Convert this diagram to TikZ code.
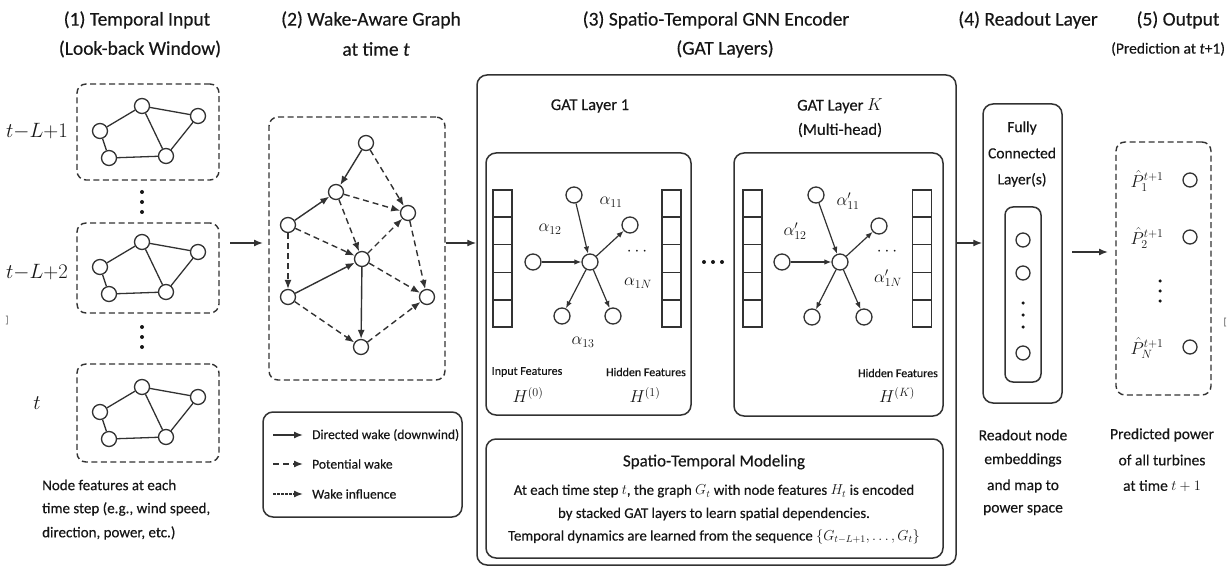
\documentclass[tikz,border=0pt]{standalone}
\usepackage{fontspec}
\setmainfont{Carlito}[UprightFeatures={FakeBold=0.35},ItalicFeatures={FakeBold=0.35}]
\usetikzlibrary{arrows.meta,calc}
\definecolor{ink}{RGB}{50,50,50}
\definecolor{txtc}{RGB}{22,22,22}
\newcommand{\fsz}[1]{\fontsize{#1}{#1}\selectfont}
\begin{document}
\begin{tikzpicture}[x=1pt,y=-1pt,
  vtx/.style={circle, draw=ink, line width=1.3pt, minimum size=15pt, inner sep=0pt, fill=white},
  svtx/.style={vtx, minimum size=14pt},
  dbox/.style={draw=ink, line width=1.4pt, dash pattern=on 6pt off 3.5pt, rounded corners=9pt, inner sep=0pt},
  sbox/.style={draw=ink, line width=1.5pt, rounded corners=10pt, inner sep=0pt},
  edge/.style={draw=ink, line width=1.3pt},
  arr/.style={draw=ink, line width=1.4pt, -{Latex[length=9pt,width=7pt]}},
  darr/.style={arr, dash pattern=on 6pt off 4pt},
  farr/.style={arr, dash pattern=on 2.5pt off 1.5pt},
  sarr/.style={draw=ink, line width=1.2pt, -{Latex[length=7pt,width=5.5pt]}},
  col/.style={draw=ink, line width=1.3pt, minimum width=19pt, minimum height=137pt, inner sep=0pt},
  tx/.style={text=txtc, inner sep=0pt},
  title/.style={tx, font=\fsz{19.5}},
  captxt/.style={tx, font=\fsz{15}},
  small/.style={tx, font=\fsz{12}},
  mth/.style={tx, font=\fsz{17}},
  dot/.style={circle, fill=txtc, inner sep=0pt, minimum size=4pt}
]
\useasboundingbox (0,0) rectangle (1231,569);

% ---------- titles ----------
\node[title] (t1a) at (137,20) {(1) Temporal Input};
\node[title] (t1b) at (140,49) {(Look-back Window)};
\node[title] (t2a) at (371,20) {(2) Wake-Aware Graph};
\node[title] (t2b) at (376,49) {at time \textit{t}};
\node[title] (t3a) at (716,20) {(3) Spatio-Temporal GNN Encoder};
\node[title] (t3b) at (725,49) {(GAT Layers)};
\node[title] (t4a) at (1028,20) {(4) Readout Layer};
\node[title] (t5a) at (1178,20) {(5) Output};
\node[tx, font=\fsz{15.5}, anchor=west] (t5b) at (1111,49) {(Prediction at \textit{t}+1)};

% ---------- panel 1 ----------
\node[dbox, minimum width=142pt, minimum height=96pt] (box1) at (148,132) {};
\node[dbox, minimum width=142pt, minimum height=90pt] (box2) at (148,268) {};
\node[dbox, minimum width=142pt, minimum height=98pt] (box3) at (148,413) {};
\foreach \g/\cy in {1/132,2/268,3/413}{
  \node[vtx] (g\g a) at (100,\cy-1) {};
  \node[vtx] (g\g b) at (142,\cy-26) {};
  \node[vtx] (g\g c) at (198,\cy-16) {};
  \node[vtx] (g\g d) at (109,\cy+26) {};
  \node[vtx] (g\g e) at (166,\cy+24) {};
  \draw[edge] (g\g a) -- (g\g b);
  \draw[edge] (g\g b) -- (g\g c);
  \draw[edge] (g\g b) -- (g\g e);
  \draw[edge] (g\g c) -- (g\g e);
  \draw[edge] (g\g a) -- (g\g d);
  \draw[edge] (g\g d) -- (g\g e);
}
\node[tx, font=\fsz{19.5}] (l1) at (37,131) {$t{-}L{+}1$};
\node[tx, font=\fsz{19.5}] (l2) at (37,272) {$t{-}L{+}2$};
\node[tx, font=\fsz{19.5}] (l3) at (37,403) {$t$};
\foreach \yy [count=\i] in {192,202,212}{\node[dot] (va\i) at (142,\yy) {};}
\foreach \yy [count=\i] in {327,337,347}{\node[dot] (vb\i) at (142,\yy) {};}
\node[captxt, anchor=west] (c1a) at (42,485) {Node features at each};
\node[captxt, anchor=west] (c1b) at (42,509) {time step (e.g., wind speed,};
\node[captxt, anchor=west] (c1c) at (42,533) {direction, power, etc.)};

% ---------- panel 2 ----------
\node[dbox, minimum width=176pt, minimum height=263pt] (wake) at (357,248.5) {};
\node[vtx] (wA) at (366,143) {};
\node[vtx] (wB) at (336,192) {};
\node[vtx] (wC) at (408,213) {};
\node[vtx] (wD) at (288,225) {};
\node[vtx] (wE) at (362,259) {};
\node[vtx] (wF) at (288,297) {};
\node[vtx] (wG) at (427,297) {};
\node[vtx] (wH) at (361,347) {};
\draw[arr]  (wA) -- (wB);
\draw[darr] (wA) -- (wC);
\draw[darr] (wB) -- (wC);
\draw[arr]  (wD) -- (wB);
\draw[darr] (wD) -- (wE);
\draw[darr] (wB) -- (wE);
\draw[darr] (wE) -- (wC);
\draw[darr] (wD) -- (wF);
\draw[arr]  (wF) -- (wE);
\draw[darr] (wF) -- (wH);
\draw[arr]  (wE) -- (wH);
\draw[darr] (wE) -- (wG);
\draw[darr] (wC) -- (wG);
\draw[darr] (wH) -- (wG);

% legend
\node[sbox, minimum width=199pt, minimum height=105pt] (legend) at (362.5,464.5) {};
\coordinate (lg1s) at (273,435); \coordinate (lg1e) at (303,435);
\coordinate (lg2s) at (273,464); \coordinate (lg2e) at (303,464);
\coordinate (lg3s) at (273,494); \coordinate (lg3e) at (303,494);
\draw[arr]  (lg1s) -- (lg1e);
\draw[darr] (lg2s) -- (lg2e);
\draw[farr] (lg3s) -- (lg3e);
\node[tx, font=\fsz{13.5}, anchor=west] (lt1) at (312,435) {Directed wake (downwind)};
\node[tx, font=\fsz{13.5}, anchor=west] (lt2) at (312,464) {Potential wake};
\node[tx, font=\fsz{13.5}, anchor=west] (lt3) at (312,494) {Wake influence};

% ---------- panel 3 ----------
\node[sbox, minimum width=479pt, minimum height=490pt] (enc) at (716.5,320) {};
\node[tx, font=\fsz{16.5}] (gt1) at (590,106) {GAT Layer 1};
\node[tx, font=\fsz{16.5}] (gtk) at (840,106) {GAT Layer $K$};
\node[tx, font=\fsz{16.5}] (gtm) at (840,130) {(Multi-head)};
\node[sbox, minimum width=205pt, minimum height=262pt] (lay1) at (588.5,284) {};
\node[sbox, minimum width=209pt, minimum height=263pt] (layk) at (838.5,284.5) {};

% feature columns
\node[col] (c1l) at (502.5,258.5) {};
\node[col] (c1r) at (671.5,258.5) {};
\node[col] (ckl) at (752.5,258.5) {};
\node[col] (ckr) at (922,258.5) {};
\foreach \c in {c1l,c1r,ckl,ckr}{
  \foreach \k in {1,2,3,4}{
    \draw[edge] ($(\c.north west)!\k/5!(\c.south west)$) -- ($(\c.north east)!\k/5!(\c.south east)$);
  }
}

% star graph layer 1
\node[vtx, minimum size=16pt] (s1c) at (590,262) {};
\node[vtx, minimum size=16pt] (s1t) at (574,195) {};
\node[vtx, minimum size=16pt] (s1l) at (533,262) {};
\node[vtx, minimum size=16pt] (s1u) at (630,225) {};
\node[vtx, minimum size=16pt] (s1p) at (562,316) {};
\node[vtx, minimum size=16pt] (s1q) at (613,316) {};
\draw[sarr] (s1t) -- (s1c);
\draw[sarr] (s1l) -- (s1c);
\draw[sarr] (s1c) -- (s1u);
\draw[sarr] (s1c) -- (s1p);
\draw[sarr] (s1c) -- (s1q);
\node[mth] (a11) at (611,202) {$\alpha_{11}$};
\node[mth] (a12) at (550,229) {$\alpha_{12}$};
\node[mth] (a1d) at (637,252) {$\cdots$};
\node[mth] (a1n) at (638,283) {$\alpha_{1N}$};
\node[mth] (a13) at (583,342) {$\alpha_{13}$};
\node[small] (if) at (527,372) {Input Features};
\node[mth] (h0) at (528,395) {$H^{(0)}$};
\node[small] (hf1) at (646,372) {Hidden Features};
\node[mth] (h1) at (645,395) {$H^{(1)}$};

% dots between layers
\foreach \xx [count=\i] in {704,713,722}{\node[dot] (hd\i) at (\xx,262) {};}

% star graph layer K
\node[vtx, minimum size=16pt] (skc) at (840,262) {};
\node[vtx, minimum size=16pt] (skt) at (816,195) {};
\node[vtx, minimum size=16pt] (skl) at (782,262) {};
\node[vtx, minimum size=16pt] (sku) at (879,226) {};
\node[vtx, minimum size=16pt] (skp) at (812,317) {};
\node[vtx, minimum size=16pt] (skq) at (864,317) {};
\draw[sarr] (skt) -- (skc);
\draw[sarr] (skl) -- (skc);
\draw[sarr] (skc) -- (sku);
\draw[sarr] (skc) -- (skp);
\draw[sarr] (skc) -- (skq);
\node[mth] (b11) at (848,201) {$\alpha'_{11}$};
\node[mth] (b12) at (795,231) {$\alpha'_{12}$};
\node[mth] (bkd) at (887,252) {$\cdots$};
\node[mth] (bkn) at (888,278) {$\alpha'_{1N}$};
\node[small] (hfk) at (898,373) {Hidden Features};
\node[mth] (hk) at (897,395) {$H^{(K)}$};

% spatio-temporal modeling box
\node[sbox, minimum width=457pt, minimum height=119pt] (stm) at (714.5,498.5) {};
\node[tx, font=\fsz{17}] (st0) at (714,462) {Spatio-Temporal Modeling};
\node[tx, font=\fsz{14.8}] (st1) at (714,491) {At each time step $t$, the graph $G_t$ with node features $H_t$ is encoded};
\node[tx, font=\fsz{14.8}] (st2) at (714,514) {by stacked GAT layers to learn spatial dependencies.};
\node[tx, font=\fsz{14.8}] (st3) at (714,537) {Temporal dynamics are learned from the sequence $\{G_{t-L+1},\ldots,G_t\}$};

% ---------- panel 4 ----------
\node[sbox, minimum width=79pt, minimum height=299pt] (ro) at (1022.5,253.5) {};
\node[tx, font=\fsz{15.5}] (fc1) at (1022,128) {Fully};
\node[tx, font=\fsz{15.5}] (fc2) at (1022,153) {Connected};
\node[tx, font=\fsz{15.5}] (fc3) at (1022,180) {Layer(s)};
\node[sbox, rounded corners=8pt, minimum width=36pt, minimum height=175pt] (roin) at (1023,294.5) {};
\node[svtx] (r1) at (1023,240) {};
\node[svtx] (r2) at (1023,273) {};
\node[svtx] (r3) at (1023,353) {};
\foreach \yy [count=\i] in {303,315,327}{\node[dot, minimum size=3.5pt] (rd\i) at (1023,\yy) {};}
\node[captxt, font=\fsz{15.5}] (rc1) at (1023,435) {Readout node};
\node[captxt, font=\fsz{15.5}] (rc2) at (1023,460) {embeddings};
\node[captxt, font=\fsz{15.5}] (rc3) at (1023,486) {and map to};
\node[captxt, font=\fsz{15.5}] (rc4) at (1023,510) {power space};

% ---------- panel 5 ----------
\node[dbox, minimum width=95pt, minimum height=253pt] (out) at (1163.5,268.5) {};
\node[mth] (p1) at (1147,181) {$\hat{P}_1^{t+1}$};
\node[mth] (p2) at (1147,238) {$\hat{P}_2^{t+1}$};
\node[mth] (pn) at (1147,348) {$\hat{P}_N^{t+1}$};
\node[svtx] (o1) at (1190,180) {};
\node[svtx] (o2) at (1190,237) {};
\node[svtx] (on) at (1190,347) {};
\foreach \yy [count=\i] in {281,291,301}{\node[dot, minimum size=3.5pt] (od\i) at (1160,\yy) {};}
\node[captxt, font=\fsz{15.5}] (oc1) at (1162,435) {Predicted power};
\node[captxt, font=\fsz{15.5}] (oc2) at (1162,460) {of all turbines};
\node[captxt, font=\fsz{15.5}] (oc3) at (1162,486) {at time $t+1$};

% ---------- main arrows ----------
\coordinate (m1s) at (230,243);
\coordinate (m1e) at (263,243);
\draw[arr] (m1s) -- (m1e);
\draw[arr] (wake.east |- m1s) -- (enc.west |- m1s);
\draw[arr] (enc.east |- m1s) -- (ro.west |- m1s);
\coordinate (m4s) at (1072,252);
\coordinate (m4e) at (1108,252);
\draw[arr] (m4s) -- (m4e);

% stray marks
\node[tx, font=\fsz{10}, text=gray] (sm1) at (7,320) {]};
\node[tx, font=\fsz{10}, text=gray] (sm2) at (1225,322) {[};
\end{tikzpicture}
\end{document}
